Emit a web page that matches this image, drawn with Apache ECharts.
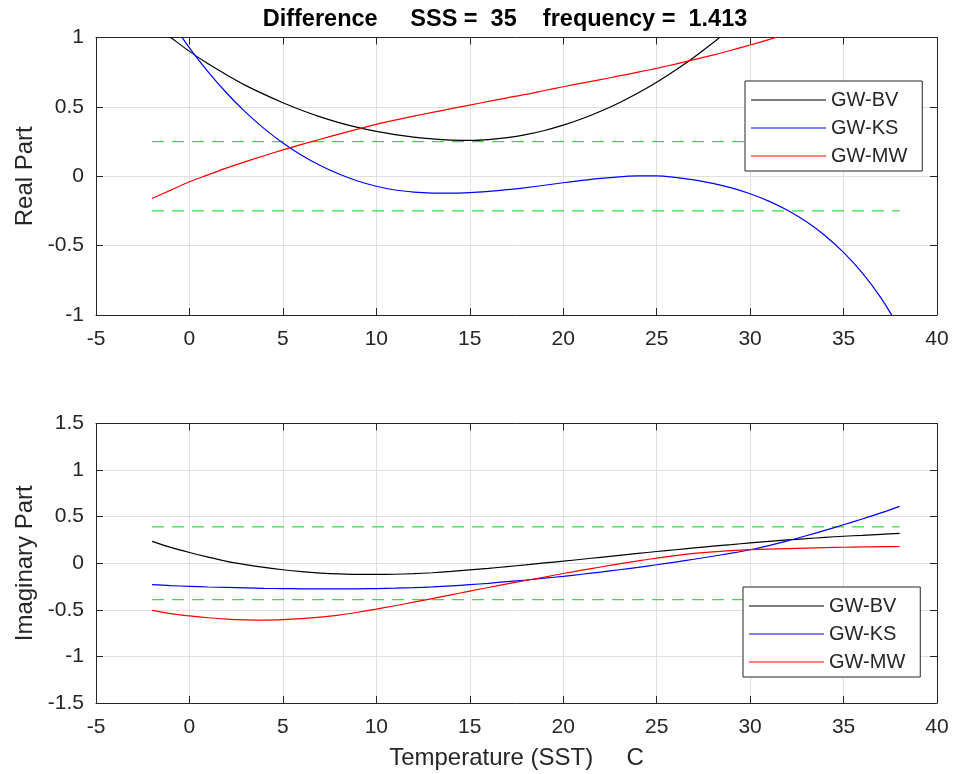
<!DOCTYPE html>
<html>
<head>
<meta charset="utf-8">
<script src="https://cdn.jsdelivr.net/npm/echarts@6/dist/echarts.min.js"></script>
<style>
  html, body { margin: 0; padding: 0; background: #fff; }
  #chart { width: 956px; height: 774px; }
</style>
</head>
<body>
<div id="chart"></div>
<script>
// temperature samples (C)
var temps = [-2, -1, 0, 1, 2, 3, 4, 5, 6, 7, 8, 9, 10, 11, 12, 13, 14, 15, 16, 17, 18,
  19, 20, 21, 22, 23, 24, 25, 26, 27, 28, 29, 30, 31, 32, 33, 34, 35, 36, 37, 38];

// real part (null = outside the plotted range)
var realBV = [1.1, 1.0, 0.9, 0.81, 0.73, 0.655, 0.59, 0.53, 0.476, 0.428, 0.387, 0.352, 0.323,
  0.3, 0.282, 0.269, 0.261, 0.258, 0.264, 0.278, 0.3, 0.33, 0.368, 0.414, 0.468, 0.53, 0.6,
  0.678, 0.764, 0.858, 0.96, 1.07, null, null, null, null, null, null, null, null, null];
var realKS = [null, 1.12, 0.925, 0.752, 0.598, 0.462, 0.343, 0.24, 0.152, 0.078, 0.016, -0.034,
  -0.072, -0.099, -0.114, -0.121, -0.122, -0.118, -0.109, -0.097, -0.082, -0.065, -0.047, -0.03,
  -0.015, -0.004, 0.002, 0.003, -0.008, -0.026, -0.051, -0.084, -0.126, -0.179, -0.245, -0.327,
  -0.427, -0.549, -0.697, -0.877, -1.097];
var realMW = [-0.16, -0.1, -0.04, 0.01, 0.06, 0.105, 0.148, 0.19, 0.23, 0.267, 0.304, 0.34,
  0.374, 0.404, 0.433, 0.46, 0.487, 0.513, 0.539, 0.565, 0.59, 0.618, 0.645, 0.671, 0.697,
  0.723, 0.75, 0.778, 0.808, 0.84, 0.873, 0.908, 0.946, 0.985, 1.025, null, null, null, null, null, null];

// imaginary part
var imagBV = [0.235, 0.17, 0.115, 0.065, 0.02, -0.015, -0.045, -0.07, -0.09, -0.105, -0.115,
  -0.12, -0.12, -0.118, -0.112, -0.102, -0.088, -0.072, -0.055, -0.036, -0.017, 0.003, 0.022,
  0.043, 0.064, 0.084, 0.105, 0.126, 0.145, 0.164, 0.183, 0.2, 0.218, 0.234, 0.25, 0.264,
  0.278, 0.29, 0.3, 0.31, 0.32];
var imagKS = [-0.23, -0.24, -0.248, -0.255, -0.26, -0.265, -0.27, -0.272, -0.274, -0.275,
  -0.275, -0.274, -0.272, -0.268, -0.262, -0.254, -0.243, -0.23, -0.215, -0.197, -0.18, -0.16,
  -0.14, -0.118, -0.095, -0.07, -0.044, -0.016, 0.013, 0.043, 0.075, 0.108, 0.145, 0.19, 0.24,
  0.295, 0.353, 0.413, 0.475, 0.54, 0.61];
var imagMW = [-0.505, -0.54, -0.565, -0.585, -0.6, -0.608, -0.61, -0.605, -0.594, -0.578,
  -0.556, -0.526, -0.492, -0.456, -0.418, -0.379, -0.339, -0.299, -0.26, -0.222, -0.185, -0.148,
  -0.11, -0.074, -0.04, -0.007, 0.025, 0.055, 0.082, 0.105, 0.123, 0.136, 0.146, 0.152, 0.158,
  0.163, 0.168, 0.172, 0.175, 0.178, 0.18];

// green threshold lines
var limT = [-2, 38];
var limRe = 0.25;
var limIm = 0.39;

var names = ['GW-BV', 'GW-KS', 'GW-MW'];
var colors = ['#000000', '#0000ff', '#ff0000'];

var axisColor = '#262626';
var gridColor = '#e0e0e0';
var font = '"Liberation Sans", Arial, sans-serif';

function pairs(xs, ys) {
  var out = [];
  for (var i = 0; i < xs.length; ++i) {
    out.push([xs[i], ys[i]]);
  }
  return out;
}

function xAxisFor(gridIndex, top) {
  return {
    type: 'value', gridIndex: gridIndex, position: top ? 'top' : 'bottom',
    min: -5, max: 40, interval: 5,
    axisLine: { show: true, onZero: false, lineStyle: { color: axisColor, width: 1 } },
    axisTick: { show: true, inside: true, length: 7, lineStyle: { color: axisColor } },
    axisLabel: { show: !top, color: axisColor, fontSize: 21, fontFamily: font, margin: 14 },
    splitLine: { show: !top, lineStyle: { color: gridColor } }
  };
}

function yAxisFor(gridIndex, right, lim) {
  return {
    type: 'value', gridIndex: gridIndex, position: right ? 'right' : 'left',
    min: -lim, max: lim, interval: 0.5,
    axisLine: { show: true, onZero: false, lineStyle: { color: axisColor, width: 1 } },
    axisTick: { show: true, inside: true, length: 7, lineStyle: { color: axisColor } },
    axisLabel: { show: !right, color: axisColor, fontSize: 21, fontFamily: font, margin: 12 },
    splitLine: { show: !right, lineStyle: { color: gridColor } }
  };
}

function curves(sets, xi, yi) {
  var out = [];
  for (var i = 0; i < sets.length; ++i) {
    out.push({
      name: names[i], type: 'line', xAxisIndex: xi, yAxisIndex: yi,
      data: pairs(temps, sets[i]), symbol: 'none', smooth: 0.3,
      lineStyle: { color: colors[i], width: 1.2 }, itemStyle: { color: colors[i] },
      clip: true, silent: true, z: 3
    });
  }
  return out;
}

function limits(v, xi, yi) {
  var out = [];
  [v, -v].forEach(function(val) {
    out.push({
      name: 'limit', type: 'line', xAxisIndex: xi, yAxisIndex: yi,
      data: pairs(limT, [val, val]), symbol: 'none',
      lineStyle: { color: '#3ddc3d', width: 1.3, type: [12, 8] },
      silent: true, z: 2
    });
  });
  return out;
}

function legendAt(left, top) {
  return {
    data: names, orient: 'vertical', left: left, top: top,
    icon: 'rect', itemWidth: 75, itemHeight: 1.2, itemGap: 6,
    padding: [8, 15, 4, 6],
    borderColor: axisColor, borderWidth: 1, backgroundColor: '#fff',
    selectedMode: false,
    textStyle: { color: axisColor, fontSize: 20, fontFamily: font, lineHeight: 22 }
  };
}

var myChart = echarts.init(document.getElementById('chart'), null, { renderer: 'canvas' });

var option = {
  backgroundColor: '#fff',
  animation: false,
  title: {
    text: 'Difference     SSS =  35    frequency =  1.413',
    left: 500, top: 3, textAlign: 'center',
    textStyle: { fontSize: 23.5, fontWeight: 'bold', color: '#000', fontFamily: font }
  },
  legend: [legendAt(745, 81), legendAt(743, 587)],
  grid: [
    { left: 96, right: 19, top: 37.5, height: 277.5, show: false },
    { left: 96, right: 19, top: 423.5, height: 279.5, show: false }
  ],
  xAxis: [
    xAxisFor(0, false), xAxisFor(0, true),
    Object.assign(xAxisFor(1, false), {
      name: 'Temperature (SST)     C', nameLocation: 'middle', nameGap: 43,
      nameTextStyle: { color: axisColor, fontSize: 24, fontFamily: font }
    }),
    xAxisFor(1, true)
  ],
  yAxis: [
    Object.assign(yAxisFor(0, false, 1), {
      name: 'Real Part', nameLocation: 'middle', nameGap: 58,
      nameTextStyle: { color: axisColor, fontSize: 24, fontFamily: font }
    }),
    yAxisFor(0, true, 1),
    Object.assign(yAxisFor(1, false, 1.5), {
      name: 'Imaginary Part', nameLocation: 'middle', nameGap: 58,
      nameTextStyle: { color: axisColor, fontSize: 24, fontFamily: font }
    }),
    yAxisFor(1, true, 1.5)
  ],
  series: [].concat(
    limits(limRe, 0, 0),
    curves([realBV, realKS, realMW], 0, 0),
    limits(limIm, 2, 2),
    curves([imagBV, imagKS, imagMW], 2, 2)
  )
};

myChart.setOption(option);
</script>
</body>
</html>
